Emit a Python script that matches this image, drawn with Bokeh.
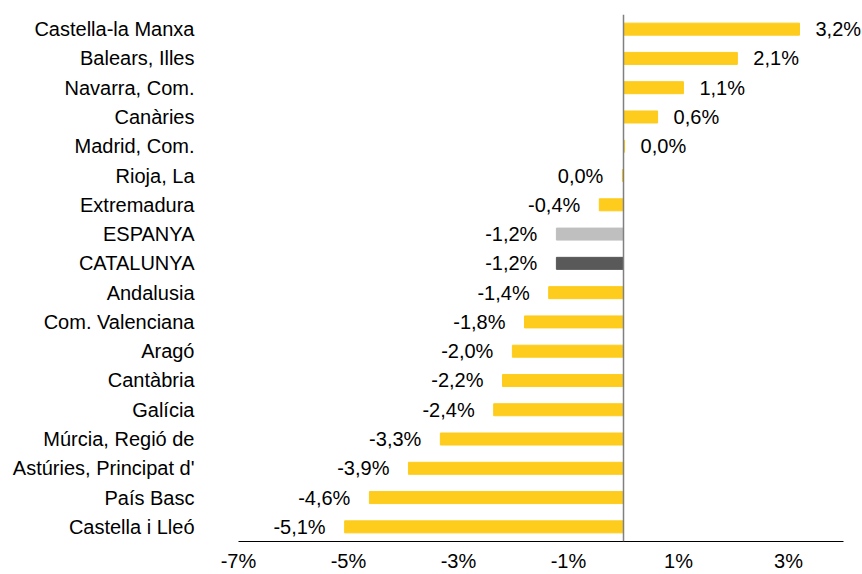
from bokeh.plotting import figure
from bokeh.models import ColumnDataSource, FactorRange, Span, FixedTicker, Range1d, LabelSet
from bokeh.core.properties import value
from bokeh.embed import file_html
from bokeh.resources import INLINE

categories = ["Castella-la Manxa", "Balears, Illes", "Navarra, Com.", "Canàries",
              "Madrid, Com.", "Rioja, La", "Extremadura", "ESPANYA", "CATALUNYA",
              "Andalusia", "Com. Valenciana", "Aragó", "Cantàbria", "Galícia",
              "Múrcia, Regió de", "Astúries, Principat d'", "País Basc", "Castella i Lleó"]
values = [3.2, 2.07, 1.09, 0.62, 0.02, -0.02, -0.44, -1.22, -1.22, -1.36, -1.8, -2.02,
          -2.2, -2.36, -3.33, -3.91, -4.62, -5.07]
x_ticks = [-7, -5, -3, -1, 1, 3]
x_min, x_max = -7, 4

YELLOW = "#FDCC1C"
special = {"ESPANYA": "#BFBFBF", "CATALUNYA": "#595959"}
colors = [special.get(c, YELLOW) for c in categories]


def fmt(v):
    r = round(v, 1)
    if r == 0:
        r = 0.0
    return f"{abs(r) if r == 0 else r:.1f}".replace(".", ",") + "%"


labels = [fmt(v) for v in values]

FONT = "Liberation Sans"
FS = "20px"

W, H = 862, 574
LEFT, RIGHT_AXIS_PX = 238, 843
px_per_unit = (RIGHT_AXIS_PX - LEFT) / (x_max - x_min)
range_end = x_min + (W - LEFT) / px_per_unit

p = figure(width=W, height=H, output_backend="svg", toolbar_location=None,
           y_range=FactorRange(*reversed(categories)), x_range=Range1d(x_min, range_end),
           min_border_left=LEFT, min_border_right=0, min_border_top=14, min_border_bottom=33)
p.outline_line_color = None
p.xgrid.grid_line_color = None
p.ygrid.grid_line_color = None
p.background_fill_color = "white"
p.border_fill_color = "white"

src = ColumnDataSource(dict(cat=categories, val=values, color=colors, label=labels))
p.hbar(y="cat", left=0, right="val", height=0.41, color="color", source=src)

pos = ColumnDataSource(dict(cat=[c for c, v in zip(categories, values) if v >= 0],
                            val=[v for v in values if v >= 0],
                            label=[l for l, v in zip(labels, values) if v >= 0]))
neg = ColumnDataSource(dict(cat=[c for c, v in zip(categories, values) if v < 0],
                            val=[v for v in values if v < 0],
                            label=[l for l, v in zip(labels, values) if v < 0]))
p.add_layout(LabelSet(x="val", y="cat", text="label", source=pos, x_offset=16,
                      text_align="left", text_baseline="middle", text_font=value(FONT),
                      text_font_size=value(FS), text_color="black"))
p.add_layout(LabelSet(x="val", y="cat", text="label", source=neg, x_offset=-19,
                      text_align="right", text_baseline="middle", text_font=value(FONT),
                      text_font_size=value(FS), text_color="black"))

p.add_layout(Span(location=0, dimension="height", line_color="#808080", line_width=1.5))

xa = p.xaxis[0]
xa.ticker = FixedTicker(ticks=x_ticks)
xa.bounds = (x_min, x_max)
xa.major_label_overrides = {t: f"{t}%" for t in x_ticks}
xa.axis_line_color = "black"
xa.axis_line_width = 1
xa.major_tick_line_color = None
xa.minor_tick_line_color = None
xa.major_tick_out = 0
xa.major_tick_in = 0
xa.major_label_standoff = 8
xa.major_label_text_font = FONT
xa.major_label_text_font_size = FS
xa.major_label_text_color = "black"

ya = p.yaxis[0]
ya.axis_line_color = None
ya.major_tick_line_color = None
ya.minor_tick_line_color = None
ya.major_tick_out = 0
ya.major_tick_in = 0
ya.major_label_standoff = 44
ya.major_label_text_font = FONT
ya.major_label_text_font_size = FS
ya.major_label_text_color = "black"

open("out.html", "w").write(file_html(p, INLINE))
